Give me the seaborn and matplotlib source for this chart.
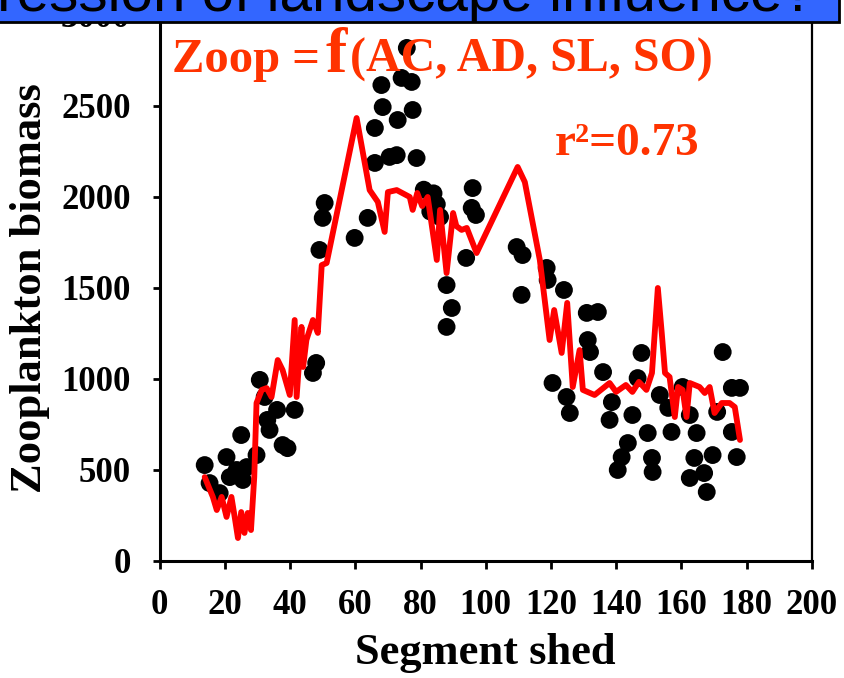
import numpy as np
import pandas as pd
import matplotlib
matplotlib.use("Agg")
import matplotlib.pyplot as plt
import seaborn as sns
from matplotlib.patches import Rectangle

# observed zooplankton biomass per segment shed
seg_pts = [13.8, 15.3, 18.4, 20.5, 21.5, 23.6, 25.0, 25.5, 26.7, 29.7,
           30.7, 32.2, 33.0, 33.7, 36.0, 37.7, 39.2, 41.4, 47.0, 48.0,
           49.0, 50.0, 50.6, 59.8, 63.8, 66.0, 66.0, 68.0, 68.4, 70.5,
           72.7, 73.0, 74.2, 75.8, 77.3, 77.6, 78.8, 81.0, 83.0, 84.0,
           85.0, 86.0, 88.0, 89.6, 88.0, 94.0, 95.7, 96.0, 97.0, 109.5,
           111.3, 111.0, 118.7, 119.0, 120.5, 124.0, 124.8, 125.8, 131.0, 131.3,
           132.0, 134.4, 136.0, 138.0, 138.7, 140.5, 141.7, 143.6, 145.0, 146.6,
           147.8, 149.7, 151.0, 151.2, 153.4, 156.0, 157.0, 160.4, 162.6, 162.6,
           164.0, 164.7, 167.0, 167.8, 169.6, 171.0, 172.7, 175.5, 175.5, 177.0,
           178.0]
zoop_pts = [527, 428, 373, 571, 461, 500, 692, 445, 516, 582,
            995, 901, 775, 720, 830, 637, 620, 830, 1033, 1088,
            1709, 1885, 1967, 1775, 1885, 2187, 2379, 2615, 2494, 2220,
            2230, 2423, 2654, 2819, 2632, 2478, 2214, 2040, 1920, 2020,
            1960, 1890, 1516, 1390, 1286, 1665, 1940, 2049, 1901, 1725,
            1681, 1462, 1610, 1544, 978, 1489, 901, 813, 1363, 1214,
            1148, 1368, 1038, 775, 873, 500, 571, 648, 802, 1005,
            1143, 703, 566, 489, 912, 841, 709, 956, 802, 456,
            566, 703, 483, 379, 582, 819, 1148, 951, 709, 571,
            951]

# model prediction Zoop = f(AC, AD, SL, SO)
seg_line = [13.8, 16.3, 17.5, 19.0, 20.5, 22.0, 23.0, 24.0, 25.0, 26.0,
            27.0, 28.0, 29.0, 29.7, 31.3, 32.8, 34.3, 36.2, 37.7, 39.9,
            41.4, 42.0, 43.5, 44.0, 45.0, 47.0, 48.5, 49.7, 51.2, 60.4,
            64.4, 66.9, 69.0, 70.0, 72.7, 76.7, 77.6, 79.0, 80.5, 82.2,
            85.0, 86.0, 88.0, 90.0, 91.0, 92.6, 94.2, 97.2, 109.8, 112.0,
            116.6, 119.6, 121.0, 123.3, 125.0, 126.7, 128.8, 129.8, 133.4, 138.0,
            140.0, 143.0, 145.0, 147.0, 149.3, 151.0, 152.8, 154.0, 155.0, 156.4,
            158.0, 159.0, 160.4, 161.6, 162.6, 165.6, 167.2, 168.7, 170.2, 172.4,
            174.8, 176.4, 178.0]
zoop_line = [461, 352, 280, 352, 242, 352, 242, 126, 269, 154,
             264, 170, 461, 868, 940, 950, 901, 1104, 1049, 912,
             1324, 901, 1286, 1066, 1214, 1324, 1253, 1626, 1637, 2434,
             2038, 1973, 1808, 2027, 2038, 2000, 1929, 2022, 1950, 2000,
             1654, 1929, 1582, 1912, 1840, 1819, 1830, 1692, 2165, 2082,
             1654, 1214, 1379, 1143, 1418, 956, 1159, 940, 912, 978,
             929, 967, 929, 984, 940, 1033, 1500, 1253, 1033, 1011,
             791, 956, 940, 791, 978, 956, 923, 956, 813, 868,
             868, 846, 665]

x_ticks = list(range(0, 201, 20))
y_ticks = [0, 500, 1000, 1500, 2000, 2500, 3000]

pts = pd.DataFrame({"seg": seg_pts, "zoop": zoop_pts})
line = pd.DataFrame({"seg": seg_line, "zoop": zoop_line})

sns.set_style("ticks")
plt.rcParams["font.family"] = ["Liberation Serif", "DejaVu Serif"]
plt.rcParams["font.weight"] = "bold"
for key in ["text.color", "axes.labelcolor", "xtick.color", "ytick.color",
            "xtick.labelcolor", "ytick.labelcolor", "axes.edgecolor"]:
    plt.rcParams[key] = "black"

fig = plt.figure(figsize=(8.45, 6.78), dpi=100)
ax = fig.add_axes([0.189, 0.1726, 0.7716, 0.8053])

sns.scatterplot(data=pts, x="seg", y="zoop", ax=ax, color="black",
                s=165, edgecolor="none", zorder=2)
sns.lineplot(data=line, x="seg", y="zoop", ax=ax, color="#ff0000",
             lw=4.2, sort=False, estimator=None, zorder=3)

ax.set_xlim(0, 200)
ax.set_ylim(0, 3000)
ax.set_xticks(x_ticks)
ax.set_yticks(y_ticks)
ax.tick_params(axis="x", labelsize=25, length=6, width=2, pad=14, direction="out")
ax.tick_params(axis="y", labelsize=25, length=5, width=2, pad=16, direction="out")
for lab in ax.get_xticklabels() + ax.get_yticklabels():
    lab.set_fontweight("bold")

for side in ["left", "bottom"]:
    ax.spines[side].set_linewidth(2.2)
ax.spines["right"].set_linewidth(1.6)
ax.spines["top"].set_linewidth(1.6)

ax.set_xlabel("Segment shed", fontsize=32, fontweight="bold", labelpad=8)
ax.set_ylabel("Zooplankton biomass", fontsize=32, fontweight="bold", labelpad=8)

red = "#ff3300"
fig.text(172 / 845, 1 - 72 / 678, "Zoop =", color=red, fontsize=35,
         fontweight="bold", ha="left", va="baseline")
fig.text(325 / 845, 1 - 72 / 678, "f", color=red, fontsize=46,
         fontweight="bold", ha="left", va="baseline")
fig.text(350 / 845, 1 - 72 / 678, "(AC, AD, SL, SO)", color=red, fontsize=34.5,
         fontweight="bold", ha="left", va="baseline")
fig.text(555 / 845, 1 - 155 / 678, "r²=0.73", color=red, fontsize=34,
         fontweight="bold", ha="left", va="baseline")

# banner strip cut off at the top
fig.add_artist(Rectangle((-0.01, 1 - 22 / 678), 1.003, 0.05,
                         transform=fig.transFigure, facecolor="#3366ff",
                         edgecolor="black", lw=2, zorder=5))
fig.text(815 / 845, 1 - 11 / 678, "Regression of landscape influence?",
         fontsize=42, family="Liberation Sans", fontweight="normal",
         color="black", ha="right", va="baseline", zorder=6)

fig.savefig("out.png", dpi=100)
